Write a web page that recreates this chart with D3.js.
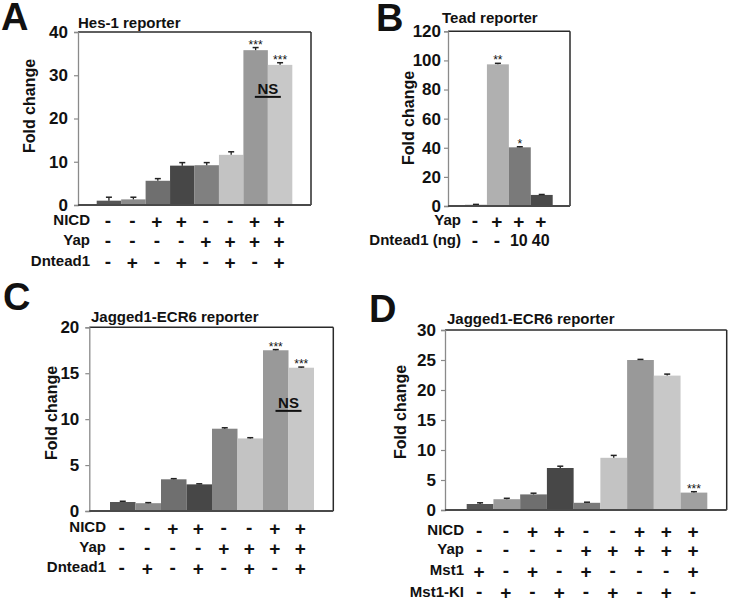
<!DOCTYPE html>
<html><head><meta charset="utf-8">
<script src="https://cdn.jsdelivr.net/npm/d3@7"></script>
<style>
body{margin:0;background:#fff;}
svg text{font-family:"Liberation Sans",Arial,Helvetica,sans-serif;font-weight:bold;fill:#111;}
</style></head>
<body><svg id="fig" width="730" height="600"></svg>
<script>
// ---------- Panel A: Hes-1 reporter ----------
const aTitle = "Hes-1 reporter";
const aValues = [1.0, 1.3, 5.6, 9.1, 9.2, 11.6, 35.8, 32.4];
const aErrors = [0.8, 0.5, 0.5, 0.7, 0.6, 0.7, 0.6, 0.5];
const aTicks = [0, 10, 20, 30, 40];
const aStars = ["", "", "", "", "", "", "***", "***"];
const aRowNames = ["NICD", "Yap", "Dntead1"];
const aNICD = ["-", "-", "+", "+", "-", "-", "+", "+"];
const aYap = ["-", "-", "-", "-", "+", "+", "+", "+"];
const aDntead1 = ["-", "+", "-", "+", "-", "+", "-", "+"];
const aNS = {between: [6, 7], value: 25};

// ---------- Panel B: Tead reporter ----------
const bTitle = "Tead reporter";
const bValues = [0.8, 97.3, 40.3, 7.6];
const bErrors = [0.3, 0.7, 0.4, 0.3];
const bTicks = [0, 20, 40, 60, 80, 100, 120];
const bStars = ["", "**", "*", ""];
const bRowNames = ["Yap", "Dntead1 (ng)"];
const bYap = ["-", "+", "+", "+"];
const bDntead1 = ["-", "-", "10", "40"];

// ---------- Panel C: Jagged1-ECR6 reporter ----------
const cTitle = "Jagged1-ECR6 reporter";
const cValues = [0.98, 0.85, 3.45, 2.9, 8.96, 7.9, 17.5, 15.6];
const cErrors = [0.08, 0.06, 0.07, 0.06, 0.1, 0.08, 0.07, 0.07];
const cTicks = [0, 5, 10, 15, 20];
const cStars = ["", "", "", "", "", "", "***", "***"];
const cRowNames = ["NICD", "Yap", "Dntead1"];
const cNICD = ["-", "-", "+", "+", "-", "-", "+", "+"];
const cYap = ["-", "-", "-", "-", "+", "+", "+", "+"];
const cDntead1 = ["-", "+", "-", "+", "-", "+", "-", "+"];
const cNS = {between: [6, 7], value: 10.9};

// ---------- Panel D: Jagged1-ECR6 reporter ----------
const dTitle = "Jagged1-ECR6 reporter";
const dValues = [1.0, 1.8, 2.6, 7.0, 1.2, 8.7, 25.0, 22.4, 2.9];
const dErrors = [0.2, 0.15, 0.2, 0.3, 0.1, 0.4, 0.1, 0.25, 0.15];
const dTicks = [0, 5, 10, 15, 20, 25, 30];
const dStars = ["", "", "", "", "", "", "", "", "***"];
const dRowNames = ["NICD", "Yap", "Mst1", "Mst1-KI"];
const dNICD = ["-", "-", "+", "+", "-", "-", "+", "+", "+"];
const dYap = ["-", "-", "-", "-", "+", "+", "+", "+", "+"];
const dMst1 = ["+", "-", "+", "-", "+", "-", "-", "-", "+"];
const dMst1KI = ["-", "+", "-", "+", "-", "+", "-", "+", "-"];

// colours
const aColors = ["#565656", "#8b8b8b", "#6f6f6f", "#474747", "#808080", "#c3c3c3", "#999999", "#c8c8c8"];
const bColors = ["#565656", "#b0b0b0", "#7a7a7a", "#4a4a4a"];
const cColors = ["#565656", "#8b8b8b", "#6f6f6f", "#474747", "#858585", "#c3c3c3", "#999999", "#c8c8c8"];
const dColors = ["#565656", "#9a9a9a", "#6f6f6f", "#474747", "#7a7a7a", "#c3c3c3", "#999999", "#c8c8c8", "#a0a0a0"];

const svg = d3.select("#fig");

function panel(o) {
  const g = svg.append("g");
  const n = o.values.length;
  const x = d3.scaleBand().domain(d3.range(n)).range(o.barRange).padding(0);
  const y = d3.scaleLinear().domain([0, o.ticks[o.ticks.length - 1]]).range([o.yZero, o.yTop]);

  // bars
  g.selectAll("rect.bar").data(o.values).join("rect")
    .attr("class", "bar")
    .attr("x", (d, i) => x(i)).attr("width", x.bandwidth())
    .attr("y", d => y(d)).attr("height", d => y(0) - y(d))
    .attr("fill", (d, i) => o.colors[i]);

  // error bars
  const eb = g.selectAll("g.err").data(o.values).join("g").attr("class", "err");
  eb.append("line")
    .attr("x1", (d, i) => x(i) + x.bandwidth() / 2).attr("x2", (d, i) => x(i) + x.bandwidth() / 2)
    .attr("y1", d => y(d)).attr("y2", (d, i) => y(d + o.errors[i]))
    .attr("stroke", "#222").attr("stroke-width", 1.3);
  eb.append("line")
    .attr("x1", (d, i) => x(i) + x.bandwidth() / 2 - 3).attr("x2", (d, i) => x(i) + x.bandwidth() / 2 + 3)
    .attr("y1", (d, i) => y(d + o.errors[i])).attr("y2", (d, i) => y(d + o.errors[i]))
    .attr("stroke", "#222").attr("stroke-width", 1.5);

  // stars
  g.selectAll("text.star").data(o.values).join("text")
    .attr("class", "star")
    .attr("x", (d, i) => x(i) + x.bandwidth() / 2)
    .attr("y", (d, i) => y(d + o.errors[i]) + 1)
    .attr("text-anchor", "middle").style("font-size", "12px").style("font-weight", "normal")
    .text((d, i) => o.stars[i]);

  // frame: top & right dark, left axis gray, bottom dark
  g.append("line").attr("x1", o.x0).attr("x2", o.x1).attr("y1", o.yTop).attr("y2", o.yTop)
    .attr("stroke", "#2a2a2a").attr("stroke-width", 1.5);
  g.append("line").attr("x1", o.x1).attr("x2", o.x1).attr("y1", o.yTop).attr("y2", o.yZero)
    .attr("stroke", "#2a2a2a").attr("stroke-width", 1.5);

  const axis = d3.axisLeft(y).tickValues(o.ticks).tickSize(4).tickPadding(o.tickPad).tickFormat(d3.format("d"));
  const ag = g.append("g").attr("transform", `translate(${o.x0},0)`).call(axis);
  ag.select(".domain").attr("stroke", "#8a8a8a").attr("stroke-width", 1.3);
  ag.selectAll(".tick line").attr("stroke", "#8a8a8a").attr("stroke-width", 1.2);
  ag.selectAll(".tick text").style("font-size", "17px").style("font-weight", "bold")
    .style("font-family", '"Liberation Sans",Arial,sans-serif').attr("fill", "#111");

  g.append("line").attr("x1", o.x0).attr("x2", o.x1).attr("y1", o.yZero).attr("y2", o.yZero)
    .attr("stroke", "#4a4a4a").attr("stroke-width", 2);

  // y label
  g.append("text").attr("transform", `translate(${o.ylabX},${o.ylabY}) rotate(-90)`)
    .attr("text-anchor", "middle").attr("dy", "0.35em").style("font-size", "16px").text("Fold change");

  // title
  g.append("text").attr("x", o.titleX).attr("y", o.titleY).style("font-size", "15px").text(o.title);

  // panel letter
  g.append("text").attr("x", o.letterX).attr("y", o.letterY).style("font-size", "38px").text(o.letter);

  // rows
  o.rows.forEach((row, r) => {
    const ry = o.rowY[r];
    g.append("text").attr("x", o.rowLabelX).attr("y", ry).attr("dy", "0.35em")
      .attr("text-anchor", "end").style("font-size", "15px").text(o.rowNames[r]);
    g.selectAll(null).data(row).join("text")
      .attr("x", (d, i) => x(i) + x.bandwidth() / 2 - 1)
      .attr("y", d => ry + (d === "+" ? 1 : 0)).attr("dy", "0.35em")
      .attr("text-anchor", "middle")
      .style("font-size", d => (d === "+" || d === "-") ? "19px" : "16px")
      .text(d => d);
  });

  // NS marker
  if (o.ns) {
    const cx = x(o.ns.between[1]);
    const yy = y(o.ns.value);
    g.append("text").attr("x", cx).attr("y", yy - 3).attr("text-anchor", "middle")
      .style("font-size", "15px").text("NS");
    g.append("line").attr("x1", cx - 13).attr("x2", cx + 13).attr("y1", yy).attr("y2", yy)
      .attr("stroke", "#111").attr("stroke-width", 2);
  }
}

panel({letter: "A", letterX: 1, letterY: 30, title: aTitle, titleX: 78, titleY: 28,
  values: aValues, errors: aErrors, ticks: aTicks, stars: aStars, colors: aColors,
  x0: 78, x1: 311, yTop: 32, yZero: 205, barRange: [96.7, 292.3], tickPad: 6,
  ylabX: 29, ylabY: 106, rows: [aNICD, aYap, aDntead1], rowNames: aRowNames,
  rowY: [220, 240, 261], rowLabelX: 90, ns: aNS});

panel({letter: "B", letterX: 376, letterY: 31, title: bTitle, titleX: 442, titleY: 23,
  values: bValues, errors: bErrors, ticks: bTicks, stars: bStars, colors: bColors,
  x0: 448, x1: 570, yTop: 31.3, yZero: 206, barRange: [465, 552.7], tickPad: 3,
  ylabX: 408, ylabY: 118, rows: [bYap, bDntead1], rowNames: bRowNames,
  rowY: [220, 240], rowLabelX: 461});

panel({letter: "C", letterX: 3, letterY: 310, title: cTitle, titleX: 91, titleY: 322,
  values: cValues, errors: cErrors, ticks: cTicks, stars: cStars, colors: cColors,
  x0: 89.3, x1: 333.3, yTop: 327.3, yZero: 511, barRange: [110, 314], tickPad: 6,
  ylabX: 51, ylabY: 413, rows: [cNICD, cYap, cDntead1], rowNames: cRowNames,
  rowY: [527, 547, 567], rowLabelX: 106, ns: cNS});

panel({letter: "D", letterX: 369, letterY: 322, title: dTitle, titleX: 447, titleY: 324,
  values: dValues, errors: dErrors, ticks: dTicks, stars: dStars, colors: dColors,
  x0: 445, x1: 726.7, yTop: 330, yZero: 510, barRange: [466.7, 707.3], tickPad: 5,
  ylabX: 400, ylabY: 412, rows: [dNICD, dYap, dMst1, dMst1KI], rowNames: dRowNames,
  rowY: [530, 549, 570, 591.5], rowLabelX: 464});
</script></body></html>
